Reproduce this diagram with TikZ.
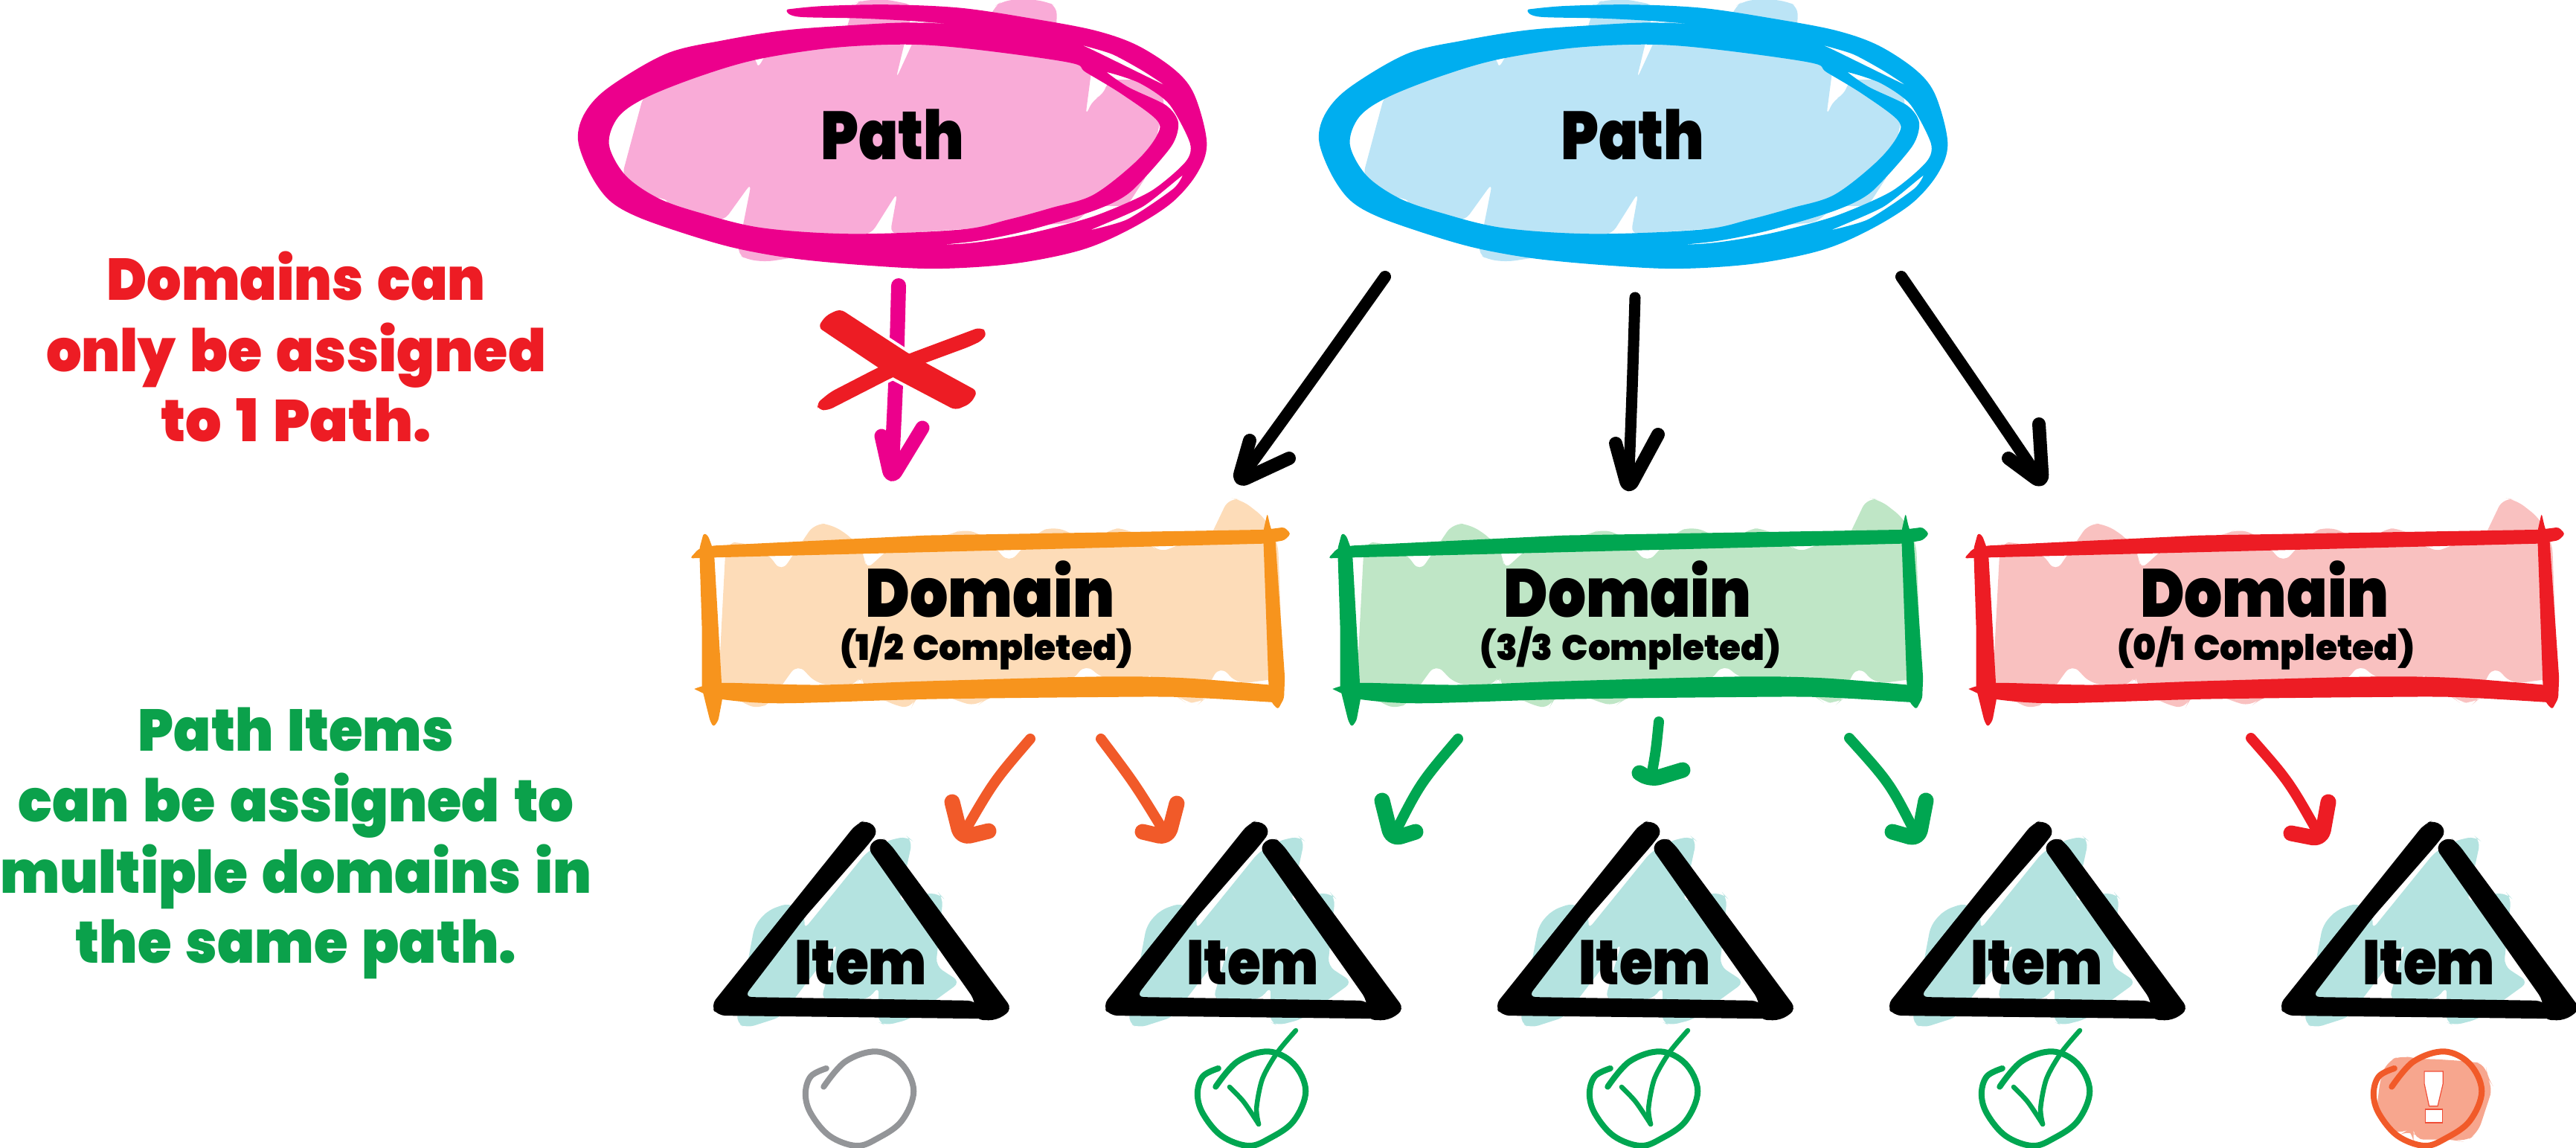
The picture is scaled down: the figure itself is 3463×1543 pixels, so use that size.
\documentclass[tikz,border=0pt]{standalone}
\usepackage{graphicx}
\usepackage{fontspec}
\setmainfont{Poppins Black}[WordSpace=1.5]
\usetikzlibrary{calc}
\definecolor{cpink}{HTML}{EC008C}\definecolor{lpink}{HTML}{F9ABD7}
\definecolor{cblue}{HTML}{00AEEF}\definecolor{lblue}{HTML}{BBE4F6}
\definecolor{corange}{HTML}{F7941D}\definecolor{lorange}{HTML}{FDDCB8}
\definecolor{cgreen}{HTML}{00A651}\definecolor{lgreen}{HTML}{BFE6C6}
\definecolor{cred}{HTML}{ED1C24}\definecolor{lred}{HTML}{F9C1C0}
\definecolor{cteal}{HTML}{B4E3E0}\definecolor{csalmon}{HTML}{F7A68E}
\definecolor{carrow}{HTML}{F15A29}\definecolor{cgray}{HTML}{939598}
\definecolor{ctxtgreen}{HTML}{0BA14B}\definecolor{cbang}{HTML}{F04E37}
\tikzset{
  sketch line/.style={line cap=round,line join=round},
  label text/.style={inner sep=0pt,anchor=base,text=black},
  big label/.style={label text,font=\fontsize{26}{26}\selectfont},
  small label/.style={label text,font=\fontsize{13.5}{13.5}\selectfont},
  item label/.style={label text,font=\fontsize{24}{24}\selectfont},
  note label/.style={inner sep=0pt,anchor=base,font=\fontsize{22.5}{22.5}\selectfont},
}
\newlength\fitunit\setlength\fitunit{0.01cm}
\newcommand{\fitw}[2]{\resizebox{#1\fitunit}{\height}{#2}}
% ---- hand drawn arrow: name,colour,shaft width,head width,start,control,tip,barb,barb
\newcommand{\sketcharrow}[9]{%
  \coordinate (#1s) at (#5); \coordinate (#1c) at (#6); \coordinate (#1e) at (#7);
  \coordinate (#1a) at (#8); \coordinate (#1b) at (#9);
  \draw[sketch line,draw=#2,line width=#3*0.01cm] (#1s) .. controls (#1c) .. ($(#1c)!0.94!(#1e)$);
  \draw[sketch line,draw=#2,line width=#4*0.01cm,rounded corners=3.5pt] (#1a) -- (#1e) -- (#1b);
}
% ---- scribbled ellipse (coordinates in a 1.568 x 2.24 grid)
\newcommand{\scribell}[3]{%
\begin{scope}[shift={(#1,0)},xscale=.63776,yscale=.44643]
  \fill[#3,rounded corners=3pt] (180,290)--(135,530)--(210,600)--(235,597)--(228,640)--(350,665)--(408,550)--(390,680)--(378,765)--(400,782)--(440,788)--(500,775)--(540,720)--(660,705)--(716,578)--(700,705)--(850,690)--(1000,680)--(1090,670)--(1130,620)--(1200,620)--(1245,520)--(1280,300)--(1250,240)--(1160,240)--(1150,285)--(1128,300)--(1112,350)--(1130,155)--(1050,130)--(1052,20)--(1030,5)--(980,-5)--(935,5)--(920,20)--(905,75)--(770,60)--(712,240)--(750,15)--(690,-2)--(640,2)--(625,10)--(612,70)--(582,190)--(610,85)--(520,85)--(465,95)--(420,210)--(418,170)--(300,130)--cycle;
  \filldraw[fill=#2,draw=#2,line width=.035cm,line join=round,even odd rule]
    plot[smooth,tension=.55] coordinates {(485,32)(560,22)(700,18)(850,28)(1000,60)(1130,95)(1220,140)(1300,215)(1340,290)(1365,430)(1345,520)(1290,610)(1200,690)(1100,750)(960,790)(800,805)(650,795)(500,775)(380,745)(280,705)(170,650)(110,600)(70,520)(45,420)(60,340)(110,265)(230,165)(350,125)(480,95)(620,80)(740,72)(860,80)(960,100)(1040,125)}
    -- plot[smooth,tension=.55] coordinates {(1040,125)(950,90)(800,65)(650,52)(510,47)(485,32)} -- cycle
    plot[smooth cycle,tension=.55] coordinates {(105,435)(125,350)(185,290)(300,225)(420,175)(580,140)(740,130)(880,145)(1080,185)(1115,215)(1190,280)(1265,360)(1265,410)(1220,490)(1130,590)(1040,630)(950,665)(850,695)(620,708)(430,690)(300,645)(210,600)(140,530)}
    plot[smooth cycle,tension=.45] coordinates {(1150,212)(1225,245)(1290,310)(1335,430)(1325,490)(1250,580)(1130,655)(990,708)(850,738)(615,745)(760,738)(880,722)(990,690)(1130,630)(1205,575)(1290,440)(1305,370)(1280,320)(1200,265)}
    plot[smooth cycle,tension=.4] coordinates {(1318,522)(1230,620)(1105,700)(1200,665)(1300,570)}
    plot[smooth cycle,tension=.4] coordinates {(1060,115)(1120,150)(1296,272)(1240,215)(1170,160)(1100,130)};
\end{scope}}
% ---- scribbled rectangle (coordinates in a 1.742 x 1.817 grid)
\newcommand{\scribrect}[3]{%
\begin{scope}[shift={(900+#1,680)},xscale=.57405,yscale=.55036]
  \fill[#3,rounded corners=4pt] (132,90)--(170,88)--(230,115)--(262,162)--(340,42)--(380,45)--(430,80)--(460,125)--(458,158)--(530,90)--(660,70)--(690,55)--(740,75)--(795,140)--(860,65)--(900,50)--(950,70)--(985,105)--(1030,55)--(1070,55)--(1130,95)--(1145,115)--(1230,80)--(1255,100)--(1310,-20)--(1340,-15)--(1395,30)--(1425,90)--(1437,420)--(1330,435)--(1290,390)--(1265,430)--(1255,470)--(1240,483)--(1205,478)--(1190,465)--(1130,440)--(1128,400)--(1110,440)--(1010,420)--(975,385)--(940,430)--(740,470)--(720,490)--(670,475)--(610,445)--(575,470)--(565,497)--(510,480)--(450,440)--(450,410)--(435,440)--(345,435)--(300,385)--(265,435)--(240,475)--(210,498)--(160,475)--(115,430)--cycle;
  \fill[#2,rounded corners=1pt] (48,128)--(68,105)--(103,97)--(600,72)--(1395,58)--(1440,52)--(1455,68)--(1440,84)--(1395,92)--(103,126)--cycle;
  \fill[#2,rounded corners=1pt] (70,105)--(80,66)--(90,72)--(100,100)--(105,123)--(122,432)--(124,470)--(114,525)--(103,540)--(95,525)--(76,445)--(76,300)--cycle;
  \fill[#2] plot[smooth,tension=.5] coordinates {(58,447)(78,440)(120,432)(350,437)(600,428)(1000,417)(1200,420)(1405,437)} -- (1420,475)
      -- plot[smooth,tension=.5] coordinates {(1420,480)(1200,467)(1000,467)(600,472)(260,482)(120,472)(78,457)} -- cycle;
  \fill[#2,rounded corners=1pt] (1391,60)--(1400,18)--(1407,50)--(1419,85)--(1441,420)--(1439,470)--(1425,497)--(1410,480)--(1403,437)--(1391,88)--cycle;
\end{scope}}
% ---- triangle + status ring (coordinates in a 2.785 x 3 grid)
\newcommand{\itemtri}[1]{%
\begin{scope}[shift={({2900-527*#1},1050)},xscale=.35907,yscale=.33333]
  \fill[cteal,rounded corners=3pt] (1040,285)--(1115,240)--(1190,222)--(1210,240)--(1160,490)--(1240,455)--(1310,452)--(1325,470)--(1298,745)--(1390,810)--(1300,880)--(1200,960)--(1110,985)--(1080,970)--(1085,825)--(1045,880)--(868,880)--(930,650)--(770,875)--(720,950)--(590,995)--(550,975)--(620,580)--(670,520)--(750,490)--(810,540)--(803,600)--cycle;
  \fill[black,rounded corners=3pt] (1000,172)--(1040,155)--(1085,200)--(1040,262)--(808,548)--(580,870)--(1445,885)--(1500,958)--(480,945)--(455,905)--cycle;
  \fill[black,rounded corners=3pt] (1040,265)--(1090,222)--(1125,250)--(1585,920)--(1525,965)--(1445,962)--(1445,885)--cycle;
\end{scope}}
\newcommand{\statusring}[2]{%
\begin{scope}[shift={({2900-527*#1},1050)},xscale=.35907,yscale=.33333]
  \draw[sketch line,draw=#2,line width=.08cm] plot[smooth,tension=.6] coordinates {(878,1232)(960,1130)(1075,1090)(1170,1140)(1215,1250)(1170,1370)(1080,1440)(1000,1470)(900,1430)(830,1340)(810,1260)(830,1190)(888,1158)};
\end{scope}}
\newcommand{\statuscheck}[1]{%
\statusring{#1}{cgreen}
\begin{scope}[shift={({2900-527*#1},1050)},xscale=.35907,yscale=.33333]
  \draw[sketch line,draw=cgreen,line width=.065cm] plot[smooth,tension=.5] coordinates {(930,1233)(983,1293)(1039,1383)};
  \draw[sketch line,draw=cgreen,line width=.065cm] plot[smooth,tension=.5] coordinates {(1039,1383)(1031,1317)(1053,1200)(1108,1095)(1178,1005)};
\end{scope}}
\begin{document}
\begin{tikzpicture}[x=0.01cm,y=-0.01cm]
\useasboundingbox (0,0) rectangle (3463,1543);
% paths
\scribell{750}{cpink}{lpink}
\scribell{1746}{cblue}{lblue}
\node[big label] (pathA) at (1200,215) {\fitw{193}{Path}};
\node[big label] (pathB) at (2195,215) {\fitw{193}{Path}};
% domains
\scribrect{0}{corange}{lorange}
\scribrect{858}{cgreen}{lgreen}
\scribrect{1713}{cred}{lred}
\node[big label] (domA) at (1331,829) {\fitw{335}{Domain}};
\node[small label] (domAs) at (1326,888) {\fitw{394}{(1/2 Completed)}};
\node[big label] (domB) at (2188,829) {\fitw{333}{Domain}};
\node[small label] (domBs) at (2192,888) {\fitw{405}{(3/3 Completed)}};
\node[big label] (domC) at (3044,829) {\fitw{334}{Domain}};
\node[small label] (domCs) at (3046,888) {\fitw{400}{(0/1 Completed)}};
% items
\foreach \k in {0,1,2,3,4}{\itemtri{\k}}
\node[item label] (itemA) at (1157,1323) {\fitw{178}{Item}};
\node[item label] (itemB) at (1684,1323) {\fitw{178}{Item}};
\node[item label] (itemC) at (2211,1323) {\fitw{178}{Item}};
\node[item label] (itemD) at (2738,1323) {\fitw{178}{Item}};
\node[item label] (itemE) at (3265,1323) {\fitw{178}{Item}};
% status marks
\statusring{4}{cgray}
\statuscheck{3}
\statuscheck{2}
\statuscheck{1}
\begin{scope}[shift={(2900,1050)},xscale=.35907,yscale=.33333]
  \fill[csalmon,rounded corners=4pt] (860,1130)--(915,1105)--(970,1120)--(1030,1120)--(1170,1130)--(1230,1140)--(1235,1195)--(1258,1230)--(1200,1420)--(1150,1455)--(1110,1445)--(960,1445)--(960,1420)--(940,1405)--(910,1425)--(850,1395)--(820,1340)--(835,1200)--cycle;
\end{scope}
\statusring{0}{carrow}
\begin{scope}[shift={(2900,1050)},xscale=.35907,yscale=.33333]
  \filldraw[fill=white,draw=cbang,line width=.012cm] (1000,1170)--(1070,1170)--(1070,1220)--(1050,1310)--(1018,1310)--(1000,1220)--cycle;
  \filldraw[fill=white,draw=cbang,line width=.012cm] (1003,1323)--(1067,1323)--(1067,1377)--(1003,1377)--cycle;
\end{scope}
% arrows
\sketcharrow{pa}{cpink}{20}{19}{1208,384}{1205,500}{1198,644}{1185,586}{1240,575}
\begin{scope}[shift={(750,0)},xscale=.63776,yscale=.44643]
  \path[draw=white,line width=.08cm,line join=round] (548,985)--(565,950)--(595,930)--(740,1065)--(885,1178)--(870,1215)--(838,1235)--(705,1135)--cycle;
  \path[draw=white,line width=.08cm,line join=round] (890,985)--(905,1000)--(895,1025)--(865,1045)--(770,1095)--(700,1140)--(570,1235)--(550,1235)--(545,1215)--(575,1180)--(670,1110)--(740,1065)--cycle;
  \fill[cred,rounded corners=2pt] (548,985)--(565,950)--(595,930)--(740,1065)--(885,1178)--(870,1215)--(838,1235)--(705,1135)--cycle;
  \fill[cred,rounded corners=2pt] (890,985)--(905,1000)--(895,1025)--(865,1045)--(770,1095)--(700,1140)--(570,1235)--(550,1235)--(545,1215)--(575,1180)--(670,1110)--(740,1065)--cycle;
\end{scope}
\sketcharrow{ba}{black}{16}{18}{1862,372}{1764,510}{1664,648}{1680,592}{1733,616}
\sketcharrow{bb}{black}{15}{18}{2198,400}{2194,530}{2189,658}{2172,596}{2229,584}
\sketcharrow{bc}{black}{16}{18}{2556,372}{2651,510}{2746,650}{2741,570}{2700,616}
\sketcharrow{oa}{carrow}{14}{21}{1385,993}{1336,1050}{1292,1126}{1280,1078}{1329,1117}
\sketcharrow{ob}{carrow}{14}{21}{1480,993}{1526,1054}{1570,1126}{1582,1080}{1536,1118}
\sketcharrow{ga}{cgreen}{14}{21}{1960,993}{1909,1053}{1871,1128}{1858,1076}{1903,1118}
\sketcharrow{gb}{cgreen}{14}{21}{2230,970}{2226,1010}{2219,1048}{2204,1039}{2262,1035}
\sketcharrow{gc}{cgreen}{14}{21}{2486,992}{2541,1053}{2579,1128}{2589,1076}{2544,1118}
\sketcharrow{ra}{cred}{14}{21}{3026,992}{3077,1050}{3121,1128}{3130,1078}{3080,1120}
% notes
\node[note label,text=cred] (noteAa) at (398,404) {\fitw{509}{Domains can}};
\node[note label,text=cred] (noteAb) at (398,500) {\fitw{672}{only be assigned}};
\node[note label,text=cred] (noteAc) at (398,594) {\fitw{363}{to 1 Path.}};
\node[note label,text=ctxtgreen] (noteBa) at (398,1010) {\fitw{424}{Path Items}};
\node[note label,text=ctxtgreen] (noteBb) at (398,1104) {\fitw{747}{can be assigned to}};
\node[note label,text=ctxtgreen] (noteBc) at (398,1200) {\fitw{795}{multiple domains in}};
\node[note label,text=ctxtgreen] (noteBd) at (398,1294) {\fitw{593}{the same path.}};
\end{tikzpicture}
\end{document}
